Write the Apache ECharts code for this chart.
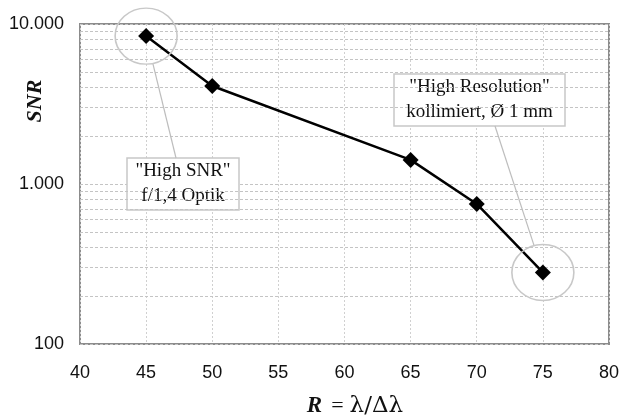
<!DOCTYPE html>
<html>
<head>
<meta charset="utf-8">
<script src="https://cdn.jsdelivr.net/npm/echarts@6/dist/echarts.min.js"></script>
<style>
  html, body { margin: 0; padding: 0; background: #fff; }
  #chart { width: 622px; height: 420px; }
</style>
</head>
<body>
<div id="chart"></div>
<script>
// Spectral resolution R and signal-to-noise ratio SNR
const resolution = [45, 50, 65, 70, 75];
const snr = [8400, 4100, 1415, 750, 280];

// Axis ticks
const xTicks = [40, 45, 50, 55, 60, 65, 70, 75, 80];
const yTicks = [100, 1000, 10000];
// Intermediate horizontal grid lines of the log axis
const yMinorGrid = [200, 300, 400, 500, 600, 700, 800, 900,
                    2000, 3000, 4000, 5000, 6000, 7000, 8000, 9000];

// Callout texts
const noteHighSnr = ['"High SNR"', 'f/1,4 Optik'];
const noteHighRes = ['"High Resolution"', 'kollimiert, Ø 1 mm'];

const fmtThousands = v => String(Math.round(v)).replace(/\B(?=(\d{3})+(?!\d))/g, '.');

const chart = echarts.init(document.getElementById('chart'));

const gridLineStyle = { color: '#c4c4c4', type: [3, 2], width: 1 };

chart.setOption({
  animation: false,
  backgroundColor: '#fff',
  grid: {
    left: 80, right: 12, top: 24, bottom: 76,
    show: true, borderColor: '#8c8c8c', borderWidth: 2, backgroundColor: 'transparent'
  },
  xAxis: {
    type: 'value',
    min: xTicks[0], max: xTicks[xTicks.length - 1], interval: 5,
    axisLine: { show: false },
    axisTick: { show: false },
    axisLabel: { margin: 20, fontFamily: 'Liberation Sans', fontSize: 18, color: '#111' },
    splitLine: { show: true, lineStyle: { color: '#d0d0d0', type: [2, 2], width: 1 } }
  },
  yAxis: {
    type: 'log', logBase: 10,
    min: yTicks[0], max: yTicks[yTicks.length - 1],
    axisLine: { show: false },
    axisTick: { show: false },
    axisLabel: {
      margin: 16, fontFamily: 'Liberation Sans', fontSize: 18, color: '#111',
      formatter: v => yTicks.some(t => Math.abs(t - v) < 1e-6 * t) ? fmtThousands(v) : ''
    },
    splitLine: { show: true, lineStyle: gridLineStyle }
  },
  series: [
    {
      type: 'line',
      data: resolution.map((r, i) => [r, snr[i]]),
      symbol: 'diamond',
      symbolSize: 16,
      lineStyle: { color: '#000', width: 2.5 },
      itemStyle: { color: '#000' },
      z: 5,
      markLine: {
        silent: true, symbol: 'none', label: { show: false },
        lineStyle: gridLineStyle,
        data: yMinorGrid.map(v => ({ yAxis: v }))
      }
    }
  ]
});

// Annotation layer: highlight circles, leader lines, callout boxes, axis titles
const p1 = chart.convertToPixel({ gridIndex: 0 }, [resolution[0], snr[0]]);
const p2 = chart.convertToPixel({ gridIndex: 0 }, [resolution[4], snr[4]]);
const rx = 31, ry = 28;

function ring(c) {
  return {
    type: 'circle', x: c[0], y: c[1], scaleY: ry / rx,
    shape: { cx: 0, cy: 0, r: rx },
    style: { fill: 'none', stroke: '#c8c8c8', lineWidth: 1.6 },
    z: 10
  };
}
function edgePoint(c, target) {
  const dx = target[0] - c[0], dy = target[1] - c[1];
  const t = 1 / Math.sqrt((dx * dx) / (rx * rx) + (dy * dy) / (ry * ry));
  return [c[0] + dx * t, c[1] + dy * t];
}
function callout(x, y, w, h, lines) {
  return {
    type: 'group', x: x, y: y, z: 20,
    children: [
      { type: 'rect', shape: { x: 0, y: 0, width: w, height: h },
        style: { fill: '#fff', stroke: '#c8c8c8', lineWidth: 1.5 } },
      { type: 'text', x: w / 2, y: h / 2,
        style: { text: lines.join('\n'), fill: '#111', font: '19px "Liberation Serif"',
                 lineHeight: 25, align: 'center', verticalAlign: 'middle' } }
    ]
  };
}

const box1 = { x: 127, y: 158, w: 112, h: 52 };
const box2 = { x: 394, y: 74, w: 171, h: 52 };
const anchor1 = [176, box1.y];
const anchor2 = [495, box2.y + box2.h];
const e1 = edgePoint(p1, anchor1);
const e2 = edgePoint(p2, anchor2);

chart.setOption({
  graphic: [
    ring(p1), ring(p2),
    { type: 'line', z: 9, shape: { x1: e1[0], y1: e1[1], x2: anchor1[0], y2: anchor1[1] },
      style: { stroke: '#bdbdbd', lineWidth: 1.2 } },
    { type: 'line', z: 9, shape: { x1: e2[0], y1: e2[1], x2: anchor2[0], y2: anchor2[1] },
      style: { stroke: '#bdbdbd', lineWidth: 1.2 } },
    callout(box1.x, box1.y, box1.w, box1.h, noteHighSnr),
    callout(box2.x, box2.y, box2.w, box2.h, noteHighRes),
    { type: 'text', x: 35, y: 101, rotation: Math.PI / 2, z: 20,
      style: { text: 'SNR', fill: '#111', font: 'italic bold 22px "Liberation Serif"',
               align: 'center', verticalAlign: 'middle' } },
    { type: 'text', x: 355, y: 406, z: 20,
      style: {
        text: '{b|R}{e|=}{g|λ/Δλ}', align: 'center', verticalAlign: 'middle', fill: '#111',
        rich: {
          b: { font: 'italic bold 23px "Liberation Serif"', fill: '#111' },
          e: { font: '22px "Liberation Serif"', fill: '#111', padding: [0, 6, 0, 9] },
          g: { font: '23px "DejaVu Serif"', fill: '#111' }
        }
      } }
  ]
});
</script>
</body>
</html>
